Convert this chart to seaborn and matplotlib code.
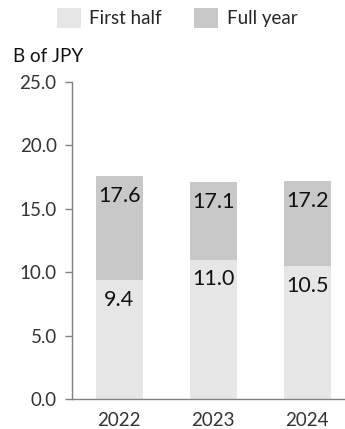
import matplotlib
matplotlib.use("Agg")
import matplotlib.pyplot as plt
import seaborn as sns
import pandas as pd
from matplotlib.patches import Patch

years = ["2022", "2023", "2024"]
first_half = [9.4, 11.0, 10.5]
full_year = [17.6, 17.1, 17.2]
series_names = ["First half", "Full year"]
y_ticks = [0.0, 5.0, 10.0, 15.0, 20.0, 25.0]

c_first = "#e6e6e6"
c_full = "#c8c8c8"

sns.set_theme(style="white")
plt.rcParams['font.family'] = ['Lato', 'DejaVu Sans']

fig = plt.figure(figsize=(3.45, 4.29), dpi=100)
ax = fig.add_axes([72/345, 30/429, 1 - 72/345, 317/429])

df = pd.DataFrame({"year": years, "first": first_half, "full": full_year})
sns.barplot(data=df, x="year", y="full", color=c_full, width=0.5, ax=ax, saturation=1, linewidth=0)
sns.barplot(data=df, x="year", y="first", color=c_first, width=0.5, ax=ax, saturation=1, linewidth=0)

for i, (a, b) in enumerate(zip(first_half, full_year)):
    ax.annotate(f"{b:.1f}", (i, b), xytext=(0, -7), textcoords="offset points",
                ha="center", va="top", fontsize=15.5, color="#111111")
    ax.annotate(f"{a:.1f}", (i, a), xytext=(0, -7), textcoords="offset points",
                ha="center", va="top", fontsize=15.5, color="#111111")

ax.set_ylim(0, 25)
ax.set_xlim(-0.5, 2.4)
ax.set_yticks(y_ticks)
ax.set_yticklabels([f"{v:.1f}" for v in y_ticks])
ax.set_xlabel("")
ax.set_ylabel("")
for s in ["top", "right"]:
    ax.spines[s].set_visible(False)
for s in ["left", "bottom"]:
    ax.spines[s].set_color("#808080")
    ax.spines[s].set_linewidth(1)
ax.tick_params(axis="y", length=5, width=1, color="#808080", labelsize=13.5, labelcolor="#333333", pad=6, left=True)
ax.tick_params(axis="x", length=0, labelsize=13.5, labelcolor="#333333", pad=9)

fig.text(13/345, 1 - 57/429, "B of JPY", fontsize=13.5, color="#111111", va="center", ha="left")

handles = [Patch(facecolor=c_first, edgecolor="none"), Patch(facecolor=c_full, edgecolor="none")]
fig.legend(handles, series_names, loc="center", bbox_to_anchor=(177/345, 1 - 18/429), ncol=2,
           frameon=False, fontsize=13.5, handlelength=1.3, handleheight=1.3, columnspacing=1.7,
           handletextpad=0.45)

fig.savefig("out.png", dpi=100)
